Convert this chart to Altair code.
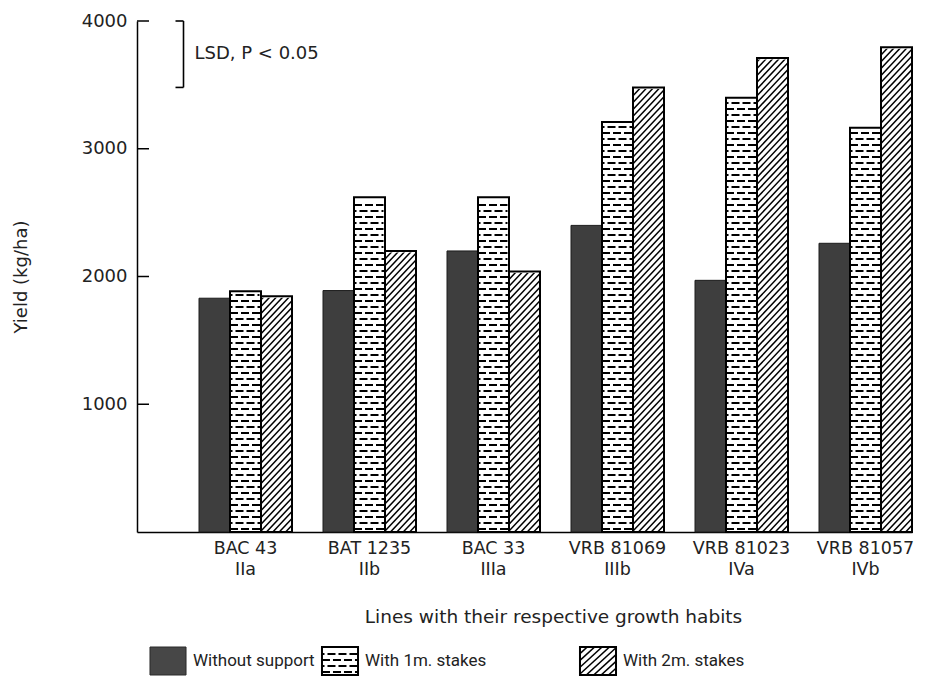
import altair as alt
import pandas as pd

# ---- data -------------------------------------------------------------
lines = ["BAC 43", "BAT 1235", "BAC 33", "VRB 81069", "VRB 81023", "VRB 81057"]
habits = ["IIa", "IIb", "IIIa", "IIIb", "IVa", "IVb"]
treatments = ["Without support", "With 1m. stakes", "With 2m. stakes"]
without_support = [1830, 1890, 2200, 2400, 1970, 2260]
with_1m_stakes = [1885, 2620, 2620, 3210, 3400, 3165]
with_2m_stakes = [1845, 2200, 2040, 3480, 3710, 3795]
y_ticks = [1000, 2000, 3000, 4000]
lsd_top = 4000
lsd_value = 520

# ---- layout / pattern settings -------------------------------------------
Y_MAX = 4000
PLOT_W, PLOT_H = 775, 511
UNITS_PER_PX = Y_MAX / PLOT_H
BRICK_STEP = 6.0 * UNITS_PER_PX      # spacing of the dashed brick rows
BRICK_FIRST = 3.0 * UNITS_PER_PX
HATCH_STEP = 6.8 * UNITS_PER_PX      # spacing of the diagonal hatching
HATCH_RISE = 33.0 * UNITS_PER_PX     # rise of one hatch stroke across a bar
LEG_H = 28
LEG_TOP = LEG_H * UNITS_PER_PX

FONT = "DejaVu Sans"
INK = "#222"

# band domain: two leading gaps, then three bars per line with a gap between lines
series_values = [without_support, with_1m_stakes, with_2m_stakes]
domain = ["lead1", "lead2"]
rows = []
label_rows = []
for i, (line, habit) in enumerate(zip(lines, habits)):
    if i > 0:
        domain.append(f"gap{i}")
    for j, treatment in enumerate(treatments):
        key = f"{line}|{j}"
        domain.append(key)
        rows.append({"key": key, "line": line, "habit": habit,
                     "treatment": treatment, "yield": series_values[j][i]})
    label_rows.append({"key": f"{line}|1", "line": line, "habit": habit})
df = pd.DataFrame(rows)
labels_df = pd.DataFrame(label_rows)

x_scale = alt.Scale(domain=domain, paddingInner=0, paddingOuter=0)
y_scale = alt.Scale(domain=[0, Y_MAX], nice=False, zero=True)

x_axis = alt.Axis(
    title="Lines with their respective growth habits",
    labels=False, ticks=False, domainColor="black", domainWidth=1.5,
    titleFont=FONT, titleFontSize=18.5, titleFontWeight="normal", titleColor=INK,
    titlePadding=75, titleX=416,
)
y_axis = alt.Axis(
    title="Yield (kg/ha)", values=y_ticks, format="d", ticks=False, grid=False,
    labelFontSize=18, labelPadding=10, labelColor=INK, labelFont=FONT,
    domainColor="black", domainWidth=1.5,
    titleFont=FONT, titleFontSize=18, titleFontWeight="normal", titleColor=INK,
    titlePadding=51,
)


def main_x(**kw):
    return alt.X("key:N", scale=x_scale, axis=x_axis, **kw)


def main_y(field):
    return alt.Y(field, scale=y_scale, axis=y_axis)


def brick_rows(src, top_expr, x_enc, y_enc):
    """Dashed, staggered horizontal rows that make the brick fill."""
    rows_chart = (
        src.transform_calculate(
            level=f"sequence({BRICK_FIRST}, {top_expr} - {BRICK_FIRST}, {BRICK_STEP})")
        .transform_flatten(["level"])
        .transform_calculate(odd=f"floor(datum.level / {BRICK_STEP}) % 2")
    )
    out = []
    for parity, offset in [(0, 0), (1, 5.5)]:
        out.append(
            rows_chart.transform_filter(f"datum.odd == {parity}")
            .mark_rule(stroke="black", strokeWidth=1.8, strokeDash=[8, 3],
                       strokeDashOffset=offset, clip=True)
            .encode(x=x_enc(bandPosition=0), x2=alt.X2("key:N", bandPosition=1),
                    y=y_enc("level:Q"))
        )
    return out


def hatch_lines(src, top_expr, x_enc, y_enc):
    """Diagonal strokes that make the hatched fill."""
    return (
        src.transform_calculate(
            y0=f"sequence({-HATCH_RISE}, {top_expr}, {HATCH_STEP})")
        .transform_flatten(["y0"])
        .transform_calculate(y1=f"datum.y0 + {HATCH_RISE}")
        .mark_rule(stroke="black", strokeWidth=1.5, clip=True)
        .encode(x=x_enc(bandPosition=0), x2=alt.X2("key:N", bandPosition=1),
                y=y_enc("y0:Q"), y2="y1:Q")
    )


base = alt.Chart(df)
dark = base.transform_filter(alt.datum.treatment == treatments[0])
brick = base.transform_filter(alt.datum.treatment == treatments[1])
hatch = base.transform_filter(alt.datum.treatment == treatments[2])

dark_bars = dark.mark_bar(fill="#3e3e3e", stroke="#1c1c1c", strokeWidth=1).encode(
    x=main_x(), y=main_y("yield:Q"),
)

brick_layers = brick_rows(brick, "datum.yield", main_x, main_y)
hatch_layer = hatch_lines(hatch, "datum.yield", main_x, main_y)

# white cover above the hatched bars trims the strokes at the bar tops
hatch_cover = hatch.mark_bar(fill="white", stroke="white", strokeWidth=3).encode(
    x=main_x(), y=main_y("yield:Q"), y2=alt.Y2(datum=Y_MAX),
)

outlines = base.transform_filter(alt.datum.treatment != treatments[0]).mark_bar(
    fill="transparent", stroke="black", strokeWidth=2
).encode(x=main_x(), y=main_y("yield:Q"))

# line names and growth habits under each group of bars
line_labels = alt.Chart(labels_df).mark_text(
    align="center", baseline="top", font=FONT, fontSize=17.5, color=INK,
).encode(x=main_x(), y=alt.value(PLOT_H + 8), text="line:N")
habit_labels = alt.Chart(labels_df).mark_text(
    align="center", baseline="top", font=FONT, fontSize=17.5, color=INK,
).encode(x=main_x(), y=alt.value(PLOT_H + 29), text="habit:N")

# LSD bracket
lsd_df = pd.DataFrame({"key": ["lead2"], "top": [lsd_top],
                       "bottom": [lsd_top - lsd_value]})
lsd_src = alt.Chart(lsd_df).transform_calculate(mid="(datum.top + datum.bottom) / 2")
lsd_stem = lsd_src.mark_rule(stroke="black", strokeWidth=1.6).encode(
    x=main_x(), y=main_y("top:Q"), y2="bottom:Q",
)
lsd_top_serif = lsd_src.mark_rule(stroke="black", strokeWidth=1.6, xOffset=-8).encode(
    x=main_x(), x2="key:N", y=main_y("top:Q"),
)
lsd_bottom_serif = lsd_src.mark_rule(stroke="black", strokeWidth=1.6, xOffset=-8).encode(
    x=main_x(), x2="key:N", y=main_y("bottom:Q"),
)
lsd_text = lsd_src.mark_text(
    text="LSD, P < 0.05", align="left", baseline="middle", dx=11,
    font=FONT, fontSize=18, color=INK,
).encode(x=main_x(), y=main_y("mid:Q"))

# inward tick marks on the yield axis
tick_rules = alt.Chart(pd.DataFrame({"tick": y_ticks})).mark_rule(
    stroke="black", strokeWidth=1.5
).encode(y=main_y("tick:Q"), x=alt.value(0), x2=alt.value(12))

main = alt.layer(
    dark_bars, *brick_layers, hatch_layer, hatch_cover, outlines,
    line_labels, habit_labels,
    lsd_stem, lsd_top_serif, lsd_bottom_serif, lsd_text, tick_rules,
).properties(width=PLOT_W, height=PLOT_H)

# ---- legend -------------------------------------------------------------
slot_domain = [treatments[0], "s1", treatments[1], "s3", "s4", treatments[2]]
legend_scale = alt.Scale(domain=slot_domain, paddingInner=0.581, paddingOuter=0.151)
legend_y = alt.Scale(domain=[0, LEG_TOP], nice=False)
legend_df = pd.DataFrame({"key": treatments})
leg = alt.Chart(legend_df)


def leg_x(**kw):
    return alt.X("key:N", scale=legend_scale, axis=None, **kw)


def leg_y(field):
    return alt.Y(field, scale=legend_y, axis=None)


leg_dark = leg.transform_filter(alt.datum.key == treatments[0]).mark_bar(
    fill="#474747", stroke="#2a2a2a", strokeWidth=1
).encode(
    x=leg_x(), y=alt.Y(datum=0, scale=legend_y, axis=None), y2=alt.Y2(datum=LEG_TOP),
)
leg_brick = brick_rows(leg.transform_filter(alt.datum.key == treatments[1]),
                       f"{LEG_TOP}", leg_x, leg_y)
leg_hatch = hatch_lines(leg.transform_filter(alt.datum.key == treatments[2]),
                        f"{LEG_TOP}", leg_x, leg_y)
leg_outline = leg.transform_filter(alt.datum.key != treatments[0]).mark_bar(
    fill="transparent", stroke="black", strokeWidth=2
).encode(
    x=leg_x(), y=alt.Y(datum=0, scale=legend_y, axis=None), y2=alt.Y2(datum=LEG_TOP),
)
leg_text = leg.mark_text(
    align="left", baseline="middle", dx=7, font="Roboto", fontSize=17, color=INK
).encode(
    x=leg_x(bandPosition=1),
    y=alt.Y(datum=LEG_TOP / 2, scale=legend_y, axis=None),
    text="key:N",
)

legend = alt.layer(leg_dark, *leg_brick, leg_hatch, leg_outline, leg_text).properties(
    width=492, height=LEG_H
)

chart = (
    alt.vconcat(main, legend, spacing=20)
    .properties(padding={"left": 12, "top": 12, "right": 5, "bottom": 5},
                background="white")
    .configure(font=FONT)
    .configure_view(stroke=None)
)

chart.save("out.html", embed_options={"renderer": "svg", "actions": False})
